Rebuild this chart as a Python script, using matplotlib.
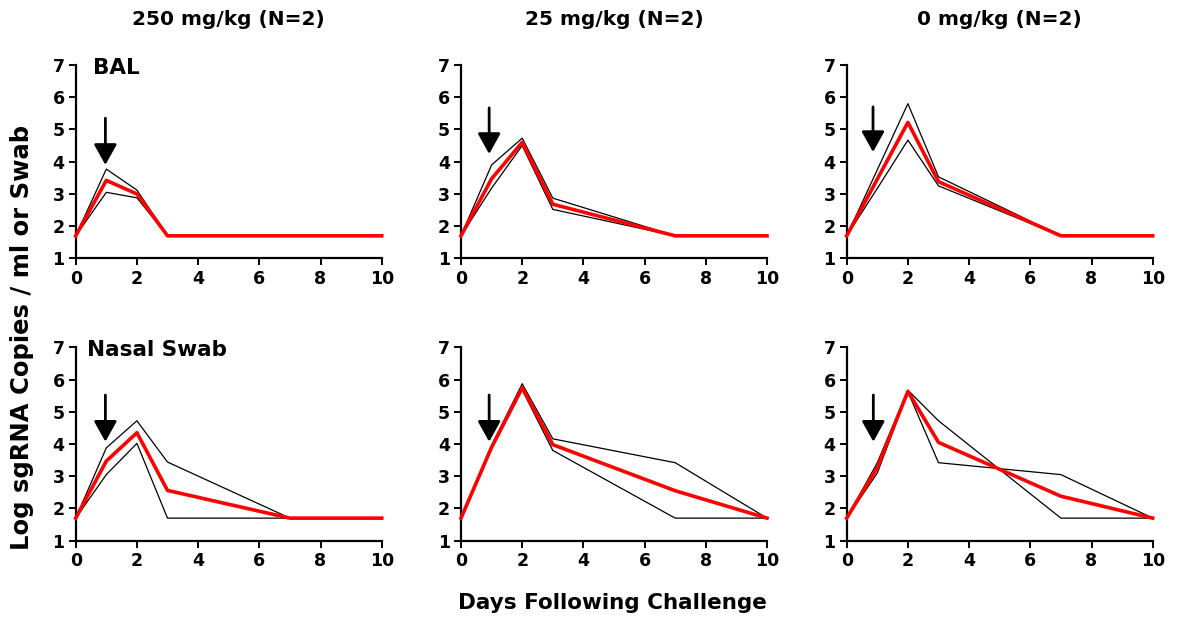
import numpy as np
import matplotlib
matplotlib.use("Agg")
import matplotlib.pyplot as plt

plt.rcParams['font.family'] = ['DejaVu Sans']
plt.rcParams['font.weight'] = 'bold'

# Dados
days = [0, 1, 2, 3, 7, 10]
doses = ["250 mg/kg (N=2)", "25 mg/kg (N=2)", "0 mg/kg (N=2)"]
rows = ["BAL", "Nasal Swab"]

# BAL
bal_250_a = [1.7, 3.77, 3.12, 1.7, 1.7, 1.7]
bal_250_b = [1.7, 3.05, 2.88, 1.7, 1.7, 1.7]
bal_250_mean = [1.7, 3.42, 3.0, 1.7, 1.7, 1.7]

bal_25_a = [1.7, 3.9, 4.73, 2.87, 1.7, 1.7]
bal_25_b = [1.7, 3.18, 4.5, 2.52, 1.7, 1.7]
bal_25_mean = [1.7, 3.47, 4.6, 2.68, 1.7, 1.7]

bal_0_a = [1.7, 3.75, 5.8, 3.53, 1.7, 1.7]
bal_0_b = [1.7, 3.17, 4.67, 3.25, 1.7, 1.7]
bal_0_mean = [1.7, 3.46, 5.22, 3.38, 1.7, 1.7]

# Nasal swab
ns_250_a = [1.7, 3.88, 4.72, 3.44, 1.7, 1.7]
ns_250_b = [1.7, 3.05, 4.02, 1.7, 1.7, 1.7]
ns_250_mean = [1.7, 3.47, 4.35, 2.56, 1.7, 1.7]

ns_25_a = [1.7, 3.95, 5.87, 4.16, 3.42, 1.7]
ns_25_b = [1.7, 3.85, 5.68, 3.8, 1.7, 1.7]
ns_25_mean = [1.7, 3.9, 5.75, 3.98, 2.55, 1.7]

ns_0_a = [1.7, 3.42, 5.67, 4.72, 1.7, 1.7]
ns_0_b = [1.7, 3.1, 5.62, 3.42, 3.05, 1.7]
ns_0_mean = [1.7, 3.27, 5.63, 4.05, 2.38, 1.7]

individuals = [[(bal_250_a, bal_250_b), (bal_25_a, bal_25_b), (bal_0_a, bal_0_b)],
               [(ns_250_a, ns_250_b), (ns_25_a, ns_25_b), (ns_0_a, ns_0_b)]]
means = [[bal_250_mean, bal_25_mean, bal_0_mean],
         [ns_250_mean, ns_25_mean, ns_0_mean]]

# setas indicando o tratamento (x, inicio, ponta)
arrow_x = [[0.97, 0.92, 0.86], [0.97, 0.92, 0.87]]
arrow_start = [[5.35, 5.67, 5.7], [5.52, 5.52, 5.52]]
arrow_tip = [[3.9, 4.24, 4.3], [4.07, 4.07, 4.07]]

W, H = 1178, 623
fig = plt.figure(figsize=(W / 100, H / 100), dpi=100)

lefts = [75.7, 461, 846.7]
width = 306
tops = [65, 347.3]
height = 193.4
row_label_x = [0.057, 0.036]

for r in range(2):
    for c in range(3):
        ax = fig.add_axes([lefts[c] / W, (H - tops[r] - height) / H, width / W, height / H])
        a, b = individuals[r][c]
        ax.plot(days, a, color='black', lw=0.9, clip_on=False)
        ax.plot(days, b, color='black', lw=0.9, clip_on=False)
        ax.plot(days, means[r][c], color='#ff0000', lw=2.6, clip_on=False, zorder=3)
        ax.annotate('', xy=(arrow_x[r][c], arrow_tip[r][c]),
                    xytext=(arrow_x[r][c], arrow_start[r][c]),
                    arrowprops=dict(arrowstyle='-|>,head_length=0.45,head_width=0.25',
                                    color='black', lw=2.0, mutation_scale=28,
                                    shrinkA=0, shrinkB=0))
        ax.set_xlim(0, 10)
        ax.set_ylim(1, 7)
        ax.set_xticks([0, 2, 4, 6, 8, 10])
        ax.set_yticks([1, 2, 3, 4, 5, 6, 7])
        for s in ['top', 'right']:
            ax.spines[s].set_visible(False)
        for s in ['left', 'bottom']:
            ax.spines[s].set_linewidth(1.6)
        ax.tick_params(labelsize=12.5, width=1.4, length=5, pad=3)
        for lab in ax.get_xticklabels() + ax.get_yticklabels():
            lab.set_fontweight('bold')
        if r == 0:
            ax.text(0.5, 1.0 + 45 / height, doses[c], transform=ax.transAxes,
                    ha='center', va='center', fontsize=14.5, fontweight='bold')
        if c == 0:
            ax.text(row_label_x[r], 0.985, rows[r], transform=ax.transAxes,
                    ha='left', va='center', fontsize=15.5, fontweight='bold')

fig.text(22 / W, 1 - 337 / H, "Log sgRNA Copies / ml or Swab", rotation=90,
         ha='center', va='center', fontsize=17.5, fontweight='bold')
fig.text(612 / W, 1 - 603 / H, "Days Following Challenge",
         ha='center', va='center', fontsize=15.5, fontweight='bold')

fig.savefig("out.png", dpi=100)
